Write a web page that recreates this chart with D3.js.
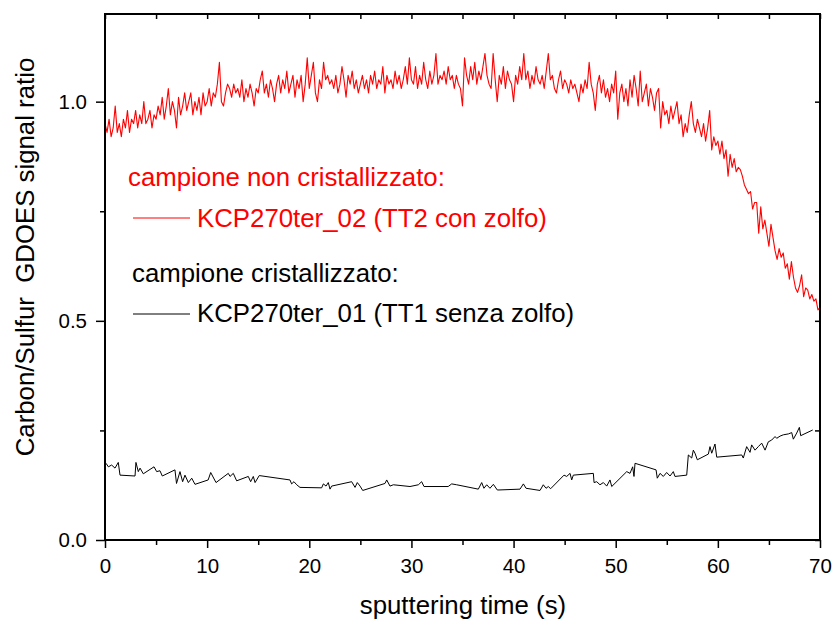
<!DOCTYPE html>
<html>
<head>
<meta charset="utf-8">
<script src="https://cdn.jsdelivr.net/npm/d3@7"></script>
<style>
  html, body { margin: 0; padding: 0; background: #fff; }
  svg { display: block; }
  text { font-family: "Liberation Sans", Arial, sans-serif; }
</style>
</head>
<body>
<svg id="chart" width="832" height="619"></svg>
<script>
// ---------------- data ----------------
const xTicks = [0, 10, 20, 30, 40, 50, 60, 70];
const xMinorTicks = [5, 15, 25, 35, 45, 55, 65];
const yTicks = [0.0, 0.5, 1.0];
const yMinorTicks = [0.25, 0.75];

// red series: KCP270ter_02, sampled every 0.2 s from 0 s
const redStart = 0;
const redStep = 0.2;
const redValues = [
  0.95,0.93,0.96,0.92,0.94, 0.99,0.93,0.95,0.92,0.96, 0.94,0.98,0.93,0.96,0.95, 0.98,0.94,0.97,0.95,1.00, 0.95,0.96,0.98,0.94,0.97,
  0.96,0.99,0.97,1.01,0.96, 0.99,1.03,0.97,1.00,0.98, 0.94,1.01,0.97,0.99,1.02, 0.98,1.00,1.02,0.97,1.00, 0.98,1.01,0.97,1.02,0.99,
  1.00,1.03,0.99,1.02,1.01, 1.04,1.09,1.00,0.99,1.02, 1.04,1.03,1.01,1.04,1.02, 1.03,1.01,1.05,1.00,1.03, 1.01,1.04,1.02,0.99,1.03,
  1.02,1.05,1.07,1.02,1.04, 1.01,1.05,1.03,1.00,1.04, 1.06,1.02,1.05,1.03,1.07, 1.02,1.04,1.06,1.01,1.05, 1.03,1.06,1.00,1.04,1.10,
  1.03,1.06,1.09,1.02,1.00, 1.05,1.03,1.09,1.05,1.06, 1.04,1.05,1.03,1.06,1.02, 1.04,1.08,1.05,1.01,1.06, 1.04,1.07,1.03,1.05,1.02,
  1.04,1.06,1.03,1.05,1.02, 1.06,1.04,1.07,1.03,1.05, 1.04,1.08,1.02,1.06,1.04, 1.05,1.03,1.07,1.04,1.06, 1.03,1.05,1.08,1.04,1.10,
  1.05,1.04,1.08,1.03,1.06, 1.04,1.09,1.05,1.03,1.07, 1.04,1.06,1.11,1.04,1.06, 1.05,1.07,1.04,1.08,1.05, 1.06,1.03,1.06,1.04,1.03,
  0.99,1.10,1.06,1.04,1.08, 1.05,1.09,1.04,1.07,1.05, 1.08,1.11,1.06,1.04,1.03, 1.11,1.05,1.00,1.06,1.04, 1.08,1.03,1.07,1.05,1.04,
  1.00,1.06,1.04,1.08,1.05, 1.11,1.05,1.07,1.03,1.06, 1.04,1.08,1.05,1.04,1.06, 1.03,1.07,1.11,1.05,1.06, 1.03,1.02,1.05,1.07,1.03,
  1.05,1.04,1.02,1.05,1.03, 1.04,1.02,1.00,1.04,1.02, 1.05,1.03,1.09,1.04,1.02, 0.98,1.04,1.06,1.02,1.05, 1.01,1.03,1.00,1.04,1.02,
  1.07,0.96,1.02,1.04,1.00, 1.03,0.99,1.05,1.01,1.06, 1.03,0.99,1.07,1.00,1.02, 1.04,0.99,1.03,1.01,0.98, 1.02,1.03,0.94,1.00,0.97,
  0.98,0.95,0.99,0.96,0.98, 1.00,0.95,0.97,0.92,0.95, 0.93,0.97,1.00,0.95,0.93, 0.96,0.94,0.92,0.95,0.91, 0.94,0.98,0.89,0.92,0.90,
  0.91,0.88,0.91,0.87,0.89, 0.83,0.88,0.85,0.87,0.84, 0.85,0.845,0.83,0.81,0.80, 0.79,0.795,0.755,0.77,0.77, 0.70,0.76,0.71,0.73,0.70,
  0.67,0.72,0.69,0.66,0.64, 0.665,0.645,0.655,0.62,0.63, 0.595,0.635,0.60,0.575,0.565, 0.58,0.605,0.555,0.575,0.57, 0.55,0.56,0.545,0.55,0.525,
  0.53
];

// black series: KCP270ter_01 (irregular sampling)
const blackTimes = [
  0.1,0.33,0.65,0.98,1.3,1.47,2.94,3.03,3.26,3.43,3.75,4.8,5.06,5.38,5.61,6.85,7.0,7.34,7.6,7.83,8.16,8.49,8.81,
  10.1,10.35,10.87,12.07,12.24,12.56,12.89,14.03,14.26,14.52,14.69,15.1,18.11,18.27,18.5,18.77,19.09,
  21.21,21.38,21.64,21.86,22.03,22.19,24.15,24.48,24.7,24.97,25.23,27.41,27.58,27.9,28.23,
  29.86,30.68,31.0,31.23,33.6,33.94,34.43,36.55,36.88,37.1,37.37,37.69,38.02,38.41,40.63,40.96,41.22,
  42.59,42.91,43.18,43.4,43.63,44.94,45.2,45.53,45.69,45.85,47.81,47.88,48.14,48.46,48.79,49.12,49.44,49.61,
  51.08,51.4,51.66,51.79,51.89,53.95,54.07,54.34,54.66,54.99,55.32,55.64,55.8,56.95,57.11,57.44,57.6,57.76,57.99,
  59.07,59.23,59.4,59.72,59.89,62.34,62.49,62.82,63.15,63.31,63.64,63.96,64.29,64.62,64.94,65.27,65.6,65.76,
  66.09,66.41,66.9,67.23,67.39,67.72,67.98,68.11,69.29
];
const blackValues = [
  0.175,0.167,0.171,0.164,0.177,0.148,0.146,0.177,0.156,0.164,0.151,0.167,0.156,0.158,0.146,0.160,0.129,0.156,0.133,0.148,0.131,0.141,0.127,
  0.137,0.154,0.131,0.152,0.145,0.152,0.135,0.145,0.133,0.145,0.131,0.147,0.137,0.128,0.133,0.126,0.120,
  0.119,0.128,0.123,0.131,0.116,0.123,0.133,0.120,0.131,0.123,0.113,0.129,0.137,0.123,0.126,
  0.122,0.126,0.133,0.122,0.122,0.128,0.126,0.116,0.131,0.118,0.126,0.118,0.127,0.114,0.116,0.128,0.118,
  0.113,0.126,0.118,0.122,0.117,0.148,0.145,0.152,0.137,0.148,0.152,0.131,0.133,0.126,0.131,0.123,0.137,0.122,
  0.156,0.152,0.167,0.145,0.175,0.160,0.141,0.152,0.145,0.154,0.146,0.156,0.145,0.148,0.194,0.187,0.205,0.198,0.183,
  0.196,0.213,0.198,0.219,0.189,0.194,0.187,0.213,0.200,0.217,0.205,0.213,0.221,0.205,0.224,0.228,0.236,0.232,
  0.237,0.240,0.242,0.245,0.230,0.244,0.257,0.238,0.251
];

const legendItems = [
  { header: "campione non cristallizzato:", label: "KCP270ter_02 (TT2 con zolfo)", color: "#ff0000" },
  { header: "campione cristallizzato:", label: "KCP270ter_01 (TT1 senza zolfo)", color: "#000000" }
];

// ---------------- chart ----------------
const svg = d3.select("#chart");
const pLeft = 105, pRight = 820, pTop = 14, pBottom = 540;
const bigFont = 25.8;

const x = d3.scaleLinear().domain([0, 70]).range([pLeft, pRight]);
const y = d3.scaleLinear().domain([0, 1.2]).range([pBottom, pTop]);

const redData = redValues.map((v, i) => ({ t: redStart + i * redStep, v }));
const blackData = blackTimes.map((t, i) => ({ t, v: blackValues[i] }));

const line = d3.line().x(d => x(d.t)).y(d => y(d.v));

svg.append("path").datum(blackData)
  .attr("d", line).attr("fill", "none").attr("stroke", "#000").attr("stroke-width", 1);
svg.append("path").datum(redData)
  .attr("d", line).attr("fill", "none").attr("stroke", "#ff0000").attr("stroke-width", 1.1)
  .attr("stroke-linejoin", "round");

function styleAxis(g, fontSize) {
  g.select(".domain").remove();
  g.selectAll(".tick line").attr("stroke", "#000").attr("stroke-width", 1.5);
  g.selectAll(".tick text").attr("font-size", fontSize).attr("fill", "#000")
    .attr("font-family", "Liberation Sans, Arial, sans-serif");
}

// bottom
svg.append("g").attr("transform", `translate(0,${pBottom})`)
  .call(d3.axisBottom(x).tickValues(xTicks).tickSize(8).tickPadding(10).tickFormat(d3.format("d")))
  .call(g => styleAxis(g, 20.5));
svg.append("g").attr("transform", `translate(0,${pBottom})`)
  .call(d3.axisBottom(x).tickValues(xMinorTicks).tickSize(5).tickFormat(""))
  .call(g => styleAxis(g, 20.5));
// left
svg.append("g").attr("transform", `translate(${pLeft},0)`)
  .call(d3.axisLeft(y).tickValues(yTicks).tickSize(9).tickPadding(9).tickFormat(d3.format(".1f")))
  .call(g => styleAxis(g, 20.5));
svg.append("g").attr("transform", `translate(${pLeft},0)`)
  .call(d3.axisLeft(y).tickValues(yMinorTicks).tickSize(5).tickFormat(""))
  .call(g => styleAxis(g, 20.5));
// top (inward)
svg.append("g").attr("transform", `translate(0,${pTop})`)
  .call(d3.axisTop(x).tickValues(xTicks.concat(xMinorTicks)).tickSize(-5).tickFormat(""))
  .call(g => styleAxis(g, 20));
// right (inward)
svg.append("g").attr("transform", `translate(${pRight},0)`)
  .call(d3.axisRight(y).tickValues(yTicks.concat(yMinorTicks)).tickSize(-5).tickFormat(""))
  .call(g => styleAxis(g, 20));

// frame
svg.append("rect").attr("x", pLeft).attr("y", pTop)
  .attr("width", pRight - pLeft).attr("height", pBottom - pTop)
  .attr("fill", "none").attr("stroke", "#000").attr("stroke-width", 2);

// axis titles
svg.append("text").attr("x", 463).attr("y", 614)
  .attr("text-anchor", "middle").attr("font-size", bigFont).attr("fill", "#000")
  .text("sputtering time (s)");
svg.append("text")
  .attr("transform", "translate(34,257) rotate(-90)")
  .attr("text-anchor", "middle").attr("font-size", bigFont).attr("fill", "#000")
  .style("white-space", "pre")
  .text("Carbon/Sulfur  GDOES signal ratio");

// legend
const legendRows = [
  { hx: 128, hy: 186, ly: 218, ty: 227 },
  { hx: 132, hy: 282, ly: 314, ty: 322 }
];
legendItems.forEach((item, i) => {
  const r = legendRows[i];
  svg.append("text").attr("x", r.hx).attr("y", r.hy).attr("font-size", bigFont)
    .attr("fill", item.color).text(item.header);
  svg.append("line").attr("x1", 133).attr("x2", 190).attr("y1", r.ly).attr("y2", r.ly)
    .attr("stroke", item.color).attr("stroke-width", 1);
  svg.append("text").attr("x", 197).attr("y", r.ty).attr("font-size", bigFont)
    .attr("fill", item.color).text(item.label);
});
</script>
</body>
</html>
